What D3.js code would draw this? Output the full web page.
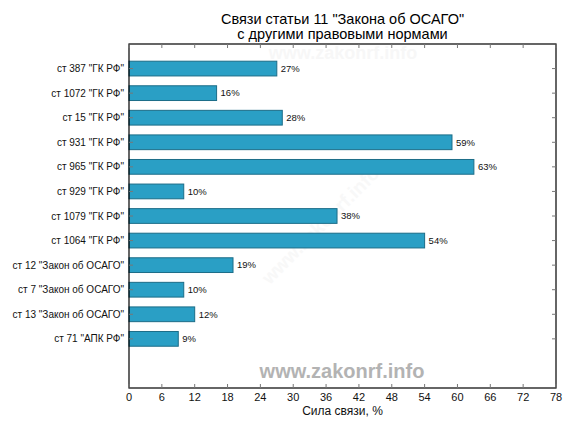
<!DOCTYPE html>
<html>
<head>
<meta charset="UTF-8">
<title>Связи статьи 11</title>
<script src="https://d3js.org/d3.v7.min.js"></script>
<style>
  body { margin: 0; background: #fff; }
  text { font-family: "Liberation Sans", Arial, sans-serif; }
</style>
</head>
<body>
<svg id="chart"></svg>
<script>
// data
const categories = ['ст 387 "ГК РФ"', 'ст 1072 "ГК РФ"', 'ст 15 "ГК РФ"', 'ст 931 "ГК РФ"',
  'ст 965 "ГК РФ"', 'ст 929 "ГК РФ"', 'ст 1079 "ГК РФ"', 'ст 1064 "ГК РФ"',
  'ст 12 "Закон об ОСАГО"', 'ст 7 "Закон об ОСАГО"', 'ст 13 "Закон об ОСАГО"', 'ст 71 "АПК РФ"'];
const values = [27, 16, 28, 59, 63, 10, 38, 54, 19, 10, 12, 9];
const xTicks = [0, 6, 12, 18, 24, 30, 36, 42, 48, 54, 60, 66, 72, 78];
const titleLines = ['Связи статьи 11 "Закона об ОСАГО"', 'с другими правовыми нормами'];
const xLabel = 'Сила связи, %';

const width = 576, height = 432;
const mLeft = 129, mRight = 556, mTop = 44, mBottom = 388;

const svg = d3.select("#chart").attr("width", width).attr("height", height);

const x = d3.scaleLinear().domain([0, 78]).range([mLeft, mRight]);
// slots: bars sit at 1..12, plot runs 0..14
const y = d3.scaleLinear().domain([0, 14]).range([mTop, mBottom]);
const slot = y(1) - y(0);
const barH = slot * 0.6;

// watermarks
svg.append("text")
  .attr("x", 343).attr("y", 59)
  .attr("text-anchor", "middle")
  .style("font-size", "18px").style("font-weight", "bold")
  .style("fill", "#f7f7f7")
  .text("www.zakonrf.info");
svg.append("text")
  .attr("transform", "translate(325,230) rotate(-45)")
  .attr("text-anchor", "middle")
  .style("font-size", "19px").style("font-weight", "bold")
  .style("fill", "#f8f8f8")
  .text("www.zakonrf.info");
svg.append("text")
  .attr("x", 342).attr("y", 378)
  .attr("text-anchor", "middle")
  .style("font-size", "20px").style("font-weight", "bold")
  .style("fill", "#b3b3b3")
  .text("www.zakonrf.info");

// bars
svg.append("g")
  .selectAll("rect")
  .data(values)
  .enter()
  .append("rect")
    .attr("x", x(0))
    .attr("y", (d, i) => y(i + 1) - barH / 2)
    .attr("width", d => x(d) - x(0))
    .attr("height", barH)
    .style("fill", "#2a9fc5")
    .style("stroke", "#1c6d88")
    .style("stroke-width", 1);

// value labels
svg.append("g")
  .selectAll("text")
  .data(values)
  .enter()
  .append("text")
    .attr("x", d => x(d) + 4)
    .attr("y", (d, i) => y(i + 1))
    .attr("dy", "0.35em")
    .style("font-size", "9.5px")
    .style("fill", "#111")
    .text(d => d + "%");

// frame
svg.append("rect")
  .attr("x", mLeft).attr("y", mTop)
  .attr("width", mRight - mLeft).attr("height", mBottom - mTop)
  .style("fill", "none").style("stroke", "#000").style("stroke-width", 1.2);

// x ticks (inside, bottom and top)
const tk = svg.append("g");
xTicks.forEach(t => {
  tk.append("line")
    .attr("x1", x(t)).attr("x2", x(t))
    .attr("y1", mBottom).attr("y2", mBottom - 4)
    .style("stroke", "#777");
  tk.append("line")
    .attr("x1", x(t)).attr("x2", x(t))
    .attr("y1", mTop).attr("y2", mTop + 4)
    .style("stroke", "#777");
  tk.append("text")
    .attr("x", x(t)).attr("y", mBottom + 13)
    .attr("text-anchor", "middle")
    .style("font-size", "11px")
    .style("fill", "#111")
    .text(t);
});

// y ticks + category labels
categories.forEach((c, i) => {
  tk.append("line")
    .attr("x1", mLeft).attr("x2", mLeft + 4)
    .attr("y1", y(i + 1)).attr("y2", y(i + 1))
    .style("stroke", "#777");
  tk.append("line")
    .attr("x1", mRight).attr("x2", mRight - 4)
    .attr("y1", y(i + 1)).attr("y2", y(i + 1))
    .style("stroke", "#777");
  tk.append("text")
    .attr("x", mLeft - 5).attr("y", y(i + 1))
    .attr("dy", "0.35em")
    .attr("text-anchor", "end")
    .style("font-size", "10px")
    .style("fill", "#111")
    .text(c);
});

// axis label
svg.append("text")
  .attr("x", (mLeft + mRight) / 2).attr("y", 415)
  .attr("text-anchor", "middle")
  .style("font-size", "12px")
  .style("fill", "#111")
  .text(xLabel);

// title
titleLines.forEach((s, i) => {
  svg.append("text")
    .attr("x", (mLeft + mRight) / 2).attr("y", 24 + i * 15)
    .attr("text-anchor", "middle")
    .style("font-size", "14.5px")
    .style("fill", "#000")
    .text(s);
});
</script>
</body>
</html>
